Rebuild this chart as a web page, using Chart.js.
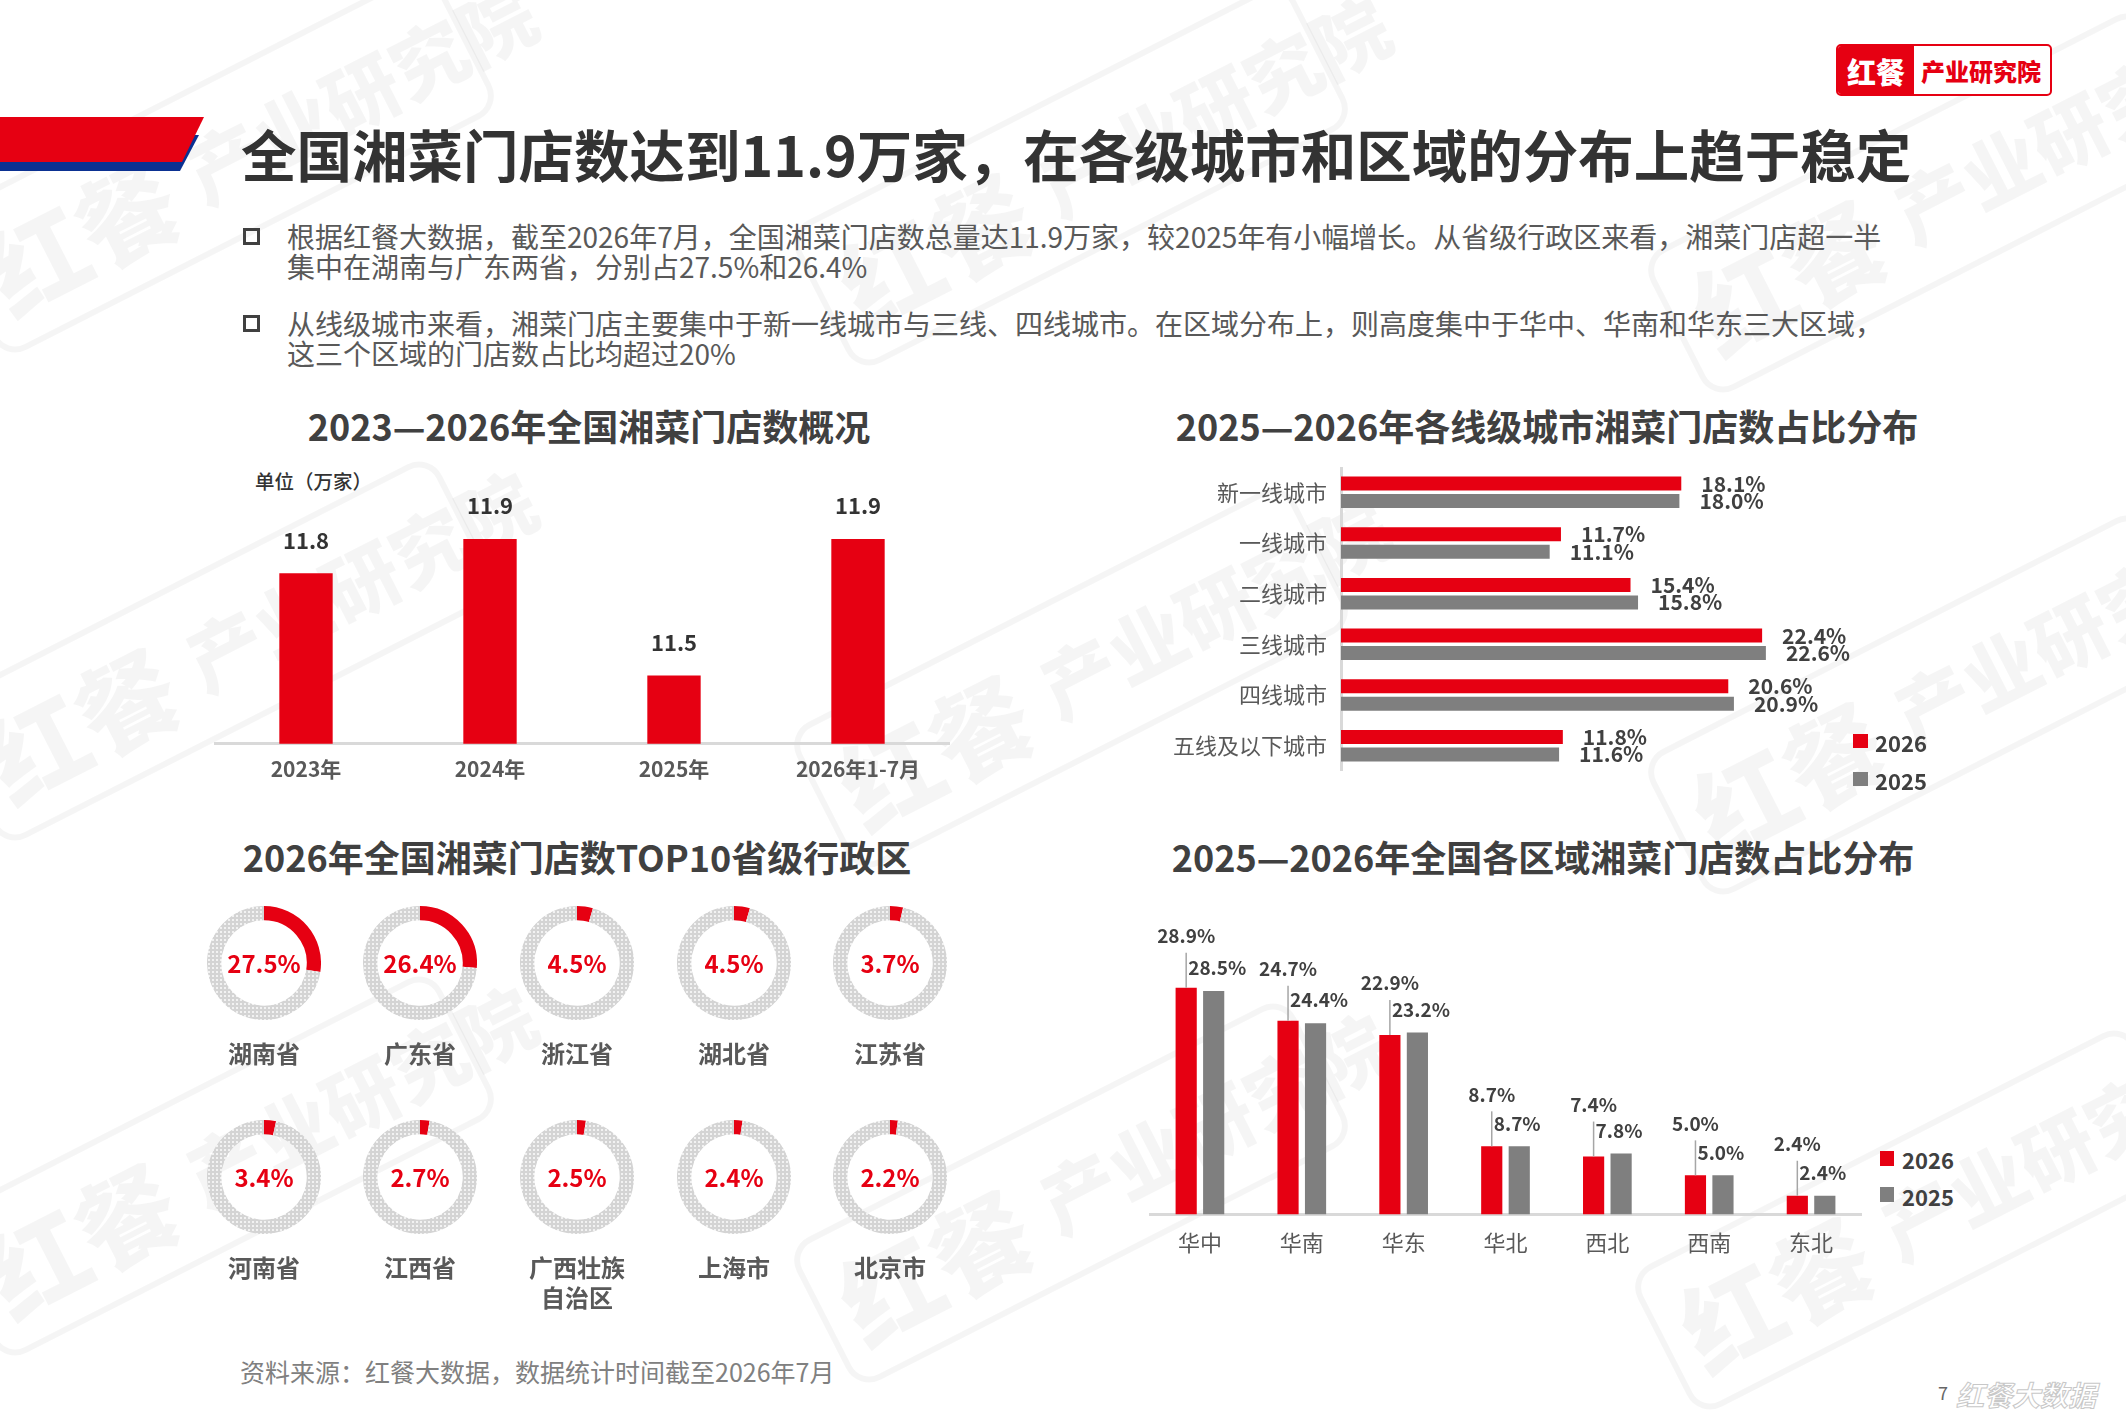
<!DOCTYPE html>
<html><head><meta charset="utf-8">
<script src="https://cdn.jsdelivr.net/npm/chart.js@4.4.1/dist/chart.umd.min.js"></script>
<style>
html,body{margin:0;padding:0;background:#fff;}
body{width:2126px;height:1418px;position:relative;overflow:hidden;font-family:"Noto Sans CJK SC","Noto Sans",sans-serif;}
.t{position:absolute;white-space:nowrap;line-height:1;}
.cx{transform:translate(-50%,-50%);text-align:center;}
.cy{transform:translateY(-50%);}
canvas{position:absolute;}
.wm{position:absolute;width:560px;height:160px;border:6px solid rgba(0,0,0,0.04);border-radius:26px;transform:translate(-50%,-50%) rotate(-27deg);color:rgba(0,0,0,0.04);font-weight:900;white-space:nowrap;display:flex;align-items:center;gap:24px;padding-left:20px;box-sizing:border-box;}
.wm .a{font-size:100px;}
.wm .b{font-size:76px;}
.sq{position:absolute;width:16px;height:16px;}
.lg{position:absolute;font-size:22px;font-weight:bold;color:#404040;line-height:1;transform:translateY(-50%);}
.bullet{position:absolute;width:11px;height:11px;border:3px solid #404040;}
.para{position:absolute;font-size:28px;line-height:30px;color:#595959;white-space:nowrap;}
.sec{font-size:36px;font-weight:bold;color:#404040;}
.pct{font-size:24px;font-weight:bold;color:#e60012;}
.prov{font-size:24px;font-weight:bold;color:#595959;line-height:30px;}
</style></head><body>

<!-- watermarks -->
<div class="wm" style="left:217px;top:163px;"><span class="a">红餐</span><span class="b">产业研究院</span></div>
<div class="wm" style="left:1071px;top:176px;"><span class="a">红餐</span><span class="b">产业研究院</span></div>
<div class="wm" style="left:1925px;top:203px;"><span class="a">红餐</span><span class="b">产业研究院</span></div>
<div class="wm" style="left:217px;top:651px;"><span class="a">红餐</span><span class="b">产业研究院</span></div>
<div class="wm" style="left:1071px;top:678px;"><span class="a">红餐</span><span class="b">产业研究院</span></div>
<div class="wm" style="left:1925px;top:705px;"><span class="a">红餐</span><span class="b">产业研究院</span></div>
<div class="wm" style="left:217px;top:1166px;"><span class="a">红餐</span><span class="b">产业研究院</span></div>
<div class="wm" style="left:1071px;top:1193px;"><span class="a">红餐</span><span class="b">产业研究院</span></div>
<div class="wm" style="left:1912px;top:1220px;"><span class="a">红餐</span><span class="b">产业研究院</span></div>

<!-- header stripe -->
<div style="position:absolute;left:0;top:0;width:260px;height:200px;">
  <div style="position:absolute;left:0;top:0;width:260px;height:200px;background:#0b3192;clip-path:polygon(0 135px,199px 135px,180px 171px,0 171px);"></div>
  <div style="position:absolute;left:0;top:0;width:260px;height:200px;background:#e60012;clip-path:polygon(0 117px,204px 117px,182px 162px,0 162px);"></div>
</div>

<!-- logo -->
<div style="position:absolute;left:1836px;top:44px;width:216px;height:52px;border:2px solid #e60012;border-radius:5px;box-sizing:border-box;overflow:hidden;background:#fff;">
  <div style="position:absolute;left:0;top:0;width:76px;height:100%;background:#e60012;"></div>
  <div class="t cx" style="left:38px;top:25px;color:#fff;font-size:29px;font-weight:900;">红餐</div>
  <div class="t cx" style="left:143px;top:25px;color:#e60012;font-size:24px;font-weight:900;">产业研究院</div>
</div>

<!-- title -->
<div class="t cy" style="left:241px;top:154px;font-size:55.5px;font-weight:bold;color:#333;">全国湘菜门店数达到11.9万家，在各级城市和区域的分布上趋于稳定</div>

<!-- bullets -->
<div class="bullet" style="left:243px;top:228px;"></div>
<div class="para" style="left:287px;top:221px;">根据红餐大数据，截至2026年7月，全国湘菜门店数总量达11.9万家，较2025年有小幅增长。从省级行政区来看，湘菜门店超一半<br>集中在湖南与广东两省，分别占27.5%和26.4%</div>
<div class="bullet" style="left:243px;top:315px;"></div>
<div class="para" style="left:287px;top:308px;">从线级城市来看，湘菜门店主要集中于新一线城市与三线、四线城市。在区域分布上，则高度集中于华中、华南和华东三大区域，<br>这三个区域的门店数占比均超过20%</div>

<!-- section titles -->
<div class="t cx sec" style="left:589px;top:425px;">2023—2026年全国湘菜门店数概况</div>
<div class="t cx sec" style="left:1547px;top:425px;">2025—2026年各线级城市湘菜门店数占比分布</div>
<div class="t cx sec" style="left:577px;top:856px;">2026年全国湘菜门店数TOP10省级行政区</div>
<div class="t cx sec" style="left:1543px;top:856px;">2025—2026年全国各区域湘菜门店数占比分布</div>

<div class="t cy" style="left:255px;top:481px;font-size:19.5px;font-weight:500;color:#333;">单位（万家）</div>

<canvas id="c1" width="736" height="330" style="left:214px;top:465px;width:736px;height:330px;"></canvas>
<canvas id="c2" width="764" height="304" style="left:1141px;top:467px;width:764px;height:304px;"></canvas>
<canvas id="c3" width="713" height="371" style="left:1149px;top:900px;width:713px;height:371px;"></canvas>

<!-- legends -->
<div class="sq" style="left:1853px;top:734px;width:15px;height:14px;background:#e60012;"></div>
<div class="lg" style="left:1875px;top:742px;">2026</div>
<div class="sq" style="left:1853px;top:772px;width:15px;height:14px;background:#7f7f7f;"></div>
<div class="lg" style="left:1875px;top:780px;">2025</div>

<div class="sq" style="left:1880px;top:1151px;width:14px;height:15px;background:#e60012;"></div>
<div class="lg" style="left:1902px;top:1159px;">2026</div>
<div class="sq" style="left:1880px;top:1187px;width:14px;height:15px;background:#7f7f7f;"></div>
<div class="lg" style="left:1902px;top:1196px;">2025</div>

<div id="donuts"></div>

<!-- source -->
<div class="t cy" style="left:240px;top:1371px;font-size:25px;color:#808080;">资料来源：红餐大数据，数据统计时间截至2026年7月</div>

<!-- footer -->
<div class="t cy" style="left:1938px;top:1392px;font-size:18px;color:#666;">7</div>
<div class="t cy" style="left:1956px;top:1394px;font-size:28px;font-weight:bold;font-style:italic;color:#fff;-webkit-text-stroke:1px #c8c8c8;">红餐大数据</div>

<script>
// ---------- data ----------
const yearCats = ['2023年', '2024年', '2025年', '2026年1-7月'];
const storeCounts = [11.8, 11.9, 11.5, 11.9];

const seriesNames = ['2026', '2025'];

const cityTiers = ['新一线城市', '一线城市', '二线城市', '三线城市', '四线城市', '五线及以下城市'];
const tier2026 = [18.1, 11.7, 15.4, 22.4, 20.6, 11.8];
const tier2025 = [18.0, 11.1, 15.8, 22.6, 20.9, 11.6];

const regions = ['华中', '华南', '华东', '华北', '西北', '西南', '东北'];
const region2026 = [28.9, 24.7, 22.9, 8.7, 7.4, 5.0, 2.4];
const region2025 = [28.5, 24.4, 23.2, 8.7, 7.8, 5.0, 2.4];

const provinces = ['湖南省', '广东省', '浙江省', '湖北省', '江苏省', '河南省', '江西省', '广西壮族\n自治区', '上海市', '北京市'];
const provinceShares = [27.5, 26.4, 4.5, 4.5, 3.7, 3.4, 2.7, 2.5, 2.4, 2.2];

// ---------- style ----------
const FONT = '"Noto Sans CJK SC","Noto Sans",sans-serif';
const RED = '#e60012';
const GRAY = '#7f7f7f';
const AXIS = '#d9d9d9';
const LABEL = '#404040';

const common = {
  responsive: false,
  animation: false,
  devicePixelRatio: 1,
  plugins: { legend: { display: false }, tooltip: { enabled: false } }
};

// ---------- chart 1 ----------
const labels1 = {
  id: 'labels1',
  afterDatasetsDraw(chart) {
    const ctx = chart.ctx;
    ctx.save();
    ctx.font = 'bold 22px ' + FONT;
    ctx.fillStyle = '#333';
    ctx.textAlign = 'center';
    ctx.textBaseline = 'middle';
    chart.getDatasetMeta(0).data.forEach((bar, i) => {
      ctx.fillText(storeCounts[i].toFixed(1), bar.x, bar.y - 33);
    });
    ctx.restore();
  }
};
new Chart(document.getElementById('c1'), {
  type: 'bar',
  data: { labels: yearCats, datasets: [{ data: storeCounts, backgroundColor: RED, barPercentage: 0.9, categoryPercentage: 0.29 / 0.9 }] },
  options: Object.assign({}, common, {
    layout: { padding: { top: 40, left: 0, right: 0, bottom: 0 } },
    scales: {
      x: {
        grid: { display: false, drawTicks: false },
        border: { display: true, color: AXIS, width: 3 },
        ticks: { color: '#595959', font: { size: 21, weight: 'bold', family: FONT }, padding: 13 }
      },
      y: { display: false, min: 11.3, max: 12.0 }
    }
  }),
  plugins: [labels1]
});

// ---------- chart 2 ----------
const labels2 = {
  id: 'labels2',
  afterDatasetsDraw(chart) {
    const ctx = chart.ctx;
    ctx.save();
    ctx.font = 'bold 21px ' + FONT;
    ctx.fillStyle = LABEL;
    ctx.textAlign = 'left';
    ctx.textBaseline = 'middle';
    [tier2026, tier2025].forEach((vals, d) => {
      chart.getDatasetMeta(d).data.forEach((bar, i) => {
        ctx.fillText(vals[i].toFixed(1) + '%', bar.x + 20, bar.y);
      });
    });
    ctx.restore();
  }
};
new Chart(document.getElementById('c2'), {
  type: 'bar',
  data: {
    labels: cityTiers,
    datasets: [
      { label: seriesNames[0], data: tier2026, backgroundColor: RED, barPercentage: 0.8, categoryPercentage: 0.69 },
      { label: seriesNames[1], data: tier2025, backgroundColor: GRAY, barPercentage: 0.8, categoryPercentage: 0.69 }
    ]
  },
  options: Object.assign({}, common, {
    indexAxis: 'y',
    scales: {
      x: { display: false, min: 0, max: 30 },
      y: {
        grid: { display: false, drawTicks: false },
        border: { display: true, color: AXIS, width: 3 },
        ticks: { color: '#595959', font: { size: 22, family: FONT }, padding: 14 },
        afterFit(s) { s.width = 200; s.paddingTop = 0; s.paddingBottom = 0; }
      }
    }
  }),
  plugins: [labels2]
});

// ---------- chart 3 ----------
const labels3 = {
  id: 'labels3',
  afterDatasetsDraw(chart) {
    const ctx = chart.ctx;
    const m0 = chart.getDatasetMeta(0).data;
    const m1 = chart.getDatasetMeta(1).data;
    ctx.save();
    ctx.font = 'bold 19px ' + FONT;
    ctx.fillStyle = LABEL;
    ctx.textBaseline = 'middle';
    m0.forEach((bar, i) => {
      const ly = bar.y - 52;
      ctx.strokeStyle = '#a6a6a6';
      ctx.lineWidth = 1.5;
      ctx.beginPath();
      ctx.moveTo(bar.x, ly + 17);
      ctx.lineTo(bar.x, bar.y);
      ctx.stroke();
      ctx.textAlign = 'center';
      ctx.fillText(region2026[i].toFixed(1) + '%', bar.x, ly);
      ctx.textAlign = 'left';
      ctx.fillText(region2025[i].toFixed(1) + '%', bar.x + 2, m1[i].y - 23);
    });
    ctx.restore();
  }
};
new Chart(document.getElementById('c3'), {
  type: 'bar',
  data: {
    labels: regions,
    datasets: [
      { label: seriesNames[0], data: region2026, backgroundColor: RED, barPercentage: 0.77, categoryPercentage: 0.54 },
      { label: seriesNames[1], data: region2025, backgroundColor: GRAY, barPercentage: 0.77, categoryPercentage: 0.54 }
    ]
  },
  options: Object.assign({}, common, {
    layout: { padding: { top: 40 } },
    scales: {
      x: {
        grid: { display: false, drawTicks: false },
        border: { display: true, color: AXIS, width: 3 },
        ticks: { color: '#595959', font: { size: 22, family: FONT }, padding: 15 }
      },
      y: { display: false, min: 0, max: 35 }
    }
  }),
  plugins: [labels3]
});

// ---------- donuts ----------
function dotPattern() {
  const p = document.createElement('canvas');
  p.width = 4; p.height = 4;
  const g = p.getContext('2d');
  g.fillStyle = '#d4d4d4';
  g.fillRect(0, 0, 4, 4);
  g.fillStyle = '#f2f2f2';
  g.fillRect(1, 1, 2, 2);
  return g.createPattern(p, 'repeat');
}
const pat = dotPattern();
const donutX = [264, 420, 577, 734, 890];
const donutY = [963, 1177];
const nameY = [1053, 1267];
const host = document.getElementById('donuts');
provinces.forEach((name, i) => {
  const cx = donutX[i % 5];
  const cy = donutY[Math.floor(i / 5)];
  const cv = document.createElement('canvas');
  cv.width = 114; cv.height = 114;
  cv.style.left = (cx - 57) + 'px';
  cv.style.top = (cy - 57) + 'px';
  cv.style.width = '114px'; cv.style.height = '114px';
  host.appendChild(cv);
  new Chart(cv, {
    type: 'doughnut',
    data: { labels: [name, '其他'], datasets: [{ data: [provinceShares[i], 100 - provinceShares[i]], backgroundColor: [RED, pat], borderWidth: 0 }] },
    options: Object.assign({}, common, { cutout: '75%' })
  });
  const pct = document.createElement('div');
  pct.className = 't cx pct';
  pct.style.left = cx + 'px';
  pct.style.top = cy + 'px';
  pct.textContent = provinceShares[i].toFixed(1) + '%';
  host.appendChild(pct);
  const nm = document.createElement('div');
  nm.className = 't prov';
  nm.style.left = cx + 'px';
  nm.style.top = (nameY[Math.floor(i / 5)] - 15) + 'px';
  nm.style.transform = 'translateX(-50%)';
  nm.style.textAlign = 'center';
  nm.innerHTML = name.replace('\n', '<br>');
  host.appendChild(nm);
});
</script>
</body></html>
